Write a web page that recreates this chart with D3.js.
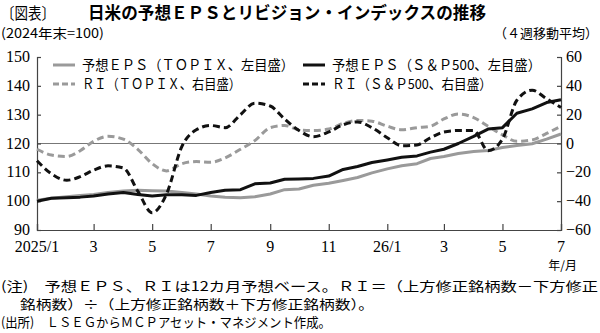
<!DOCTYPE html>
<html>
<head>
<meta charset="utf-8">
<script src="https://cdn.jsdelivr.net/npm/d3@7"></script>
<style>
body{margin:0;background:#fff;}
svg{display:block;}
</style>
</head>
<body>
<div id="chart"></div>
<script>
// data (semi-monthly points)
var dates=["2025-01-01","2025-01-16","2025-02-01","2025-02-15","2025-03-01","2025-03-16","2025-04-01","2025-04-16","2025-05-01","2025-05-16","2025-06-01","2025-06-16","2025-07-01","2025-07-16","2025-08-01","2025-08-16","2025-09-01","2025-09-16","2025-10-01","2025-10-16","2025-11-01","2025-11-16","2025-12-01","2025-12-16","2026-01-01","2026-01-16","2026-02-01","2026-02-15","2026-03-01","2026-03-16","2026-04-01","2026-04-16","2026-05-01","2026-05-16","2026-06-01","2026-06-16","2026-07-01"]
var epsTopix=[100.3,101,101.5,102,102.3,103,103.5,103.8,103.6,103.5,103,102.5,101.8,101.4,101.2,101.5,102.5,104,104.2,105.5,106.2,107.2,108.2,109.8,111.2,112.3,113,114.8,115.5,116.5,117.2,117.6,118.6,119.3,119.9,121.5,123.3]
var epsSP=[100,101,101.2,101.4,101.8,102.5,103,102.3,101.8,102.2,102.2,102,103,103.8,104,106,106.3,107.6,107.7,107.9,108.7,111,112,113.4,114.3,115.2,115.7,117,118,120,122.5,125,125.5,130.5,132,134.2,135.2]
var riTopix=[-4,-8,-9,-5,1.5,5,3,-4,-14,-19,-14,-12.5,-13,-10,-4,2,11,12.5,9.5,9,10,14,16,15.5,12,9.5,11,12,17,20.5,18,12,6,1.5,2.5,7,12]
var riSP=[-12,-21,-25.5,-23,-18.5,-15.5,-17,-33,-48,-35,-2,9.5,12.5,11,20,28,26,17,9,4.7,8,13,15,11,4,-1.5,-1,4,8,9,9,-5,3,30,37,31,25]

var leftTicks=[90,100,110,120,130,140,150]
var rightTicks=[-60,-40,-20,0,20,40,60]
var xTickDates=["2025-01-01","2025-03-01","2025-05-01","2025-07-01","2025-09-01","2025-11-01","2026-01-01","2026-03-01","2026-05-01","2026-07-01"]
var xTickLabels=["2025/1","3","5","7","9","11","26/1","3","5","7"]

var W=600,H=333
var mLeft=37,mRight=561,mTop=57,mBottom=230
var serif='"Liberation Serif","DejaVu Serif",serif'
var jp='"Noto Sans CJK JP","Noto Sans",sans-serif'

var svg=d3.select('#chart').append('svg')
    .attr('width',W)
    .attr('height',H)

var parse=d3.timeParse('%Y-%m-%d')
var xs=d3.scaleTime()
    .domain([parse('2025-01-01'),parse('2026-07-01')])
    .range([mLeft,mRight])
var yl=d3.scaleLinear().domain([90,150]).range([mBottom,mTop])
var yr=d3.scaleLinear().domain([-60,60]).range([mBottom,mTop])

// titles
svg.append('text').attr('x',1).attr('y',19)
    .attr('font-family',jp).attr('font-size',16)
    .attr('textLength',54).attr('lengthAdjust','spacingAndGlyphs')
    .text('〔図表〕')
svg.append('text').attr('x',88).attr('y',19)
    .attr('font-family',jp).attr('font-size',17).attr('font-weight','bold')
    .attr('textLength',398).attr('lengthAdjust','spacingAndGlyphs')
    .text('日米の予想ＥＰＳとリビジョン・インデックスの推移')
svg.append('text').attr('x',1).attr('y',38)
    .attr('font-family',jp).attr('font-size',13)
    .attr('textLength',103).attr('lengthAdjust','spacingAndGlyphs')
    .text('(2024年末=100)')
svg.append('text').attr('x',598).attr('y',38).attr('text-anchor','end')
    .attr('font-family',jp).attr('font-size',13)
    .text('（４週移動平均）')

// 120 / 0 line
svg.append('line')
    .attr('x1',mLeft).attr('x2',mRight)
    .attr('y1',yl(120)).attr('y2',yl(120))
    .attr('stroke','#777').attr('stroke-width',1)

// axes
var yAxisL=d3.axisRight(yl).tickValues(leftTicks).tickSize(4).tickFormat('')
var yAxisR=d3.axisLeft(yr).tickValues(rightTicks).tickSize(4).tickFormat('')
var xAxis=d3.axisTop(xs).tickValues(xTickDates.map(parse)).tickSize(6).tickFormat('')

svg.append('g').attr('transform',`translate(${mLeft},0)`).call(yAxisL)
svg.append('g').attr('transform',`translate(${mRight},0)`).call(yAxisR)
svg.append('g').attr('transform',`translate(0,${mBottom})`).call(xAxis)
svg.selectAll('.domain').attr('stroke','#444').attr('stroke-width',1.2)
svg.selectAll('.tick line').attr('stroke','#444').attr('stroke-width',1.2)

// tick labels
svg.selectAll('.lt').data(leftTicks).enter().append('text')
    .attr('x',mLeft-7).attr('y',d=>yl(d)+5)
    .attr('text-anchor','end')
    .attr('font-family',serif).attr('font-size',16)
    .text(d=>d)
svg.selectAll('.rt').data(rightTicks).enter().append('text')
    .attr('x',mRight+5).attr('y',d=>yr(d)+5)
    .attr('font-family',serif).attr('font-size',16)
    .text(d=>d<0?'−'+Math.abs(d):d)
svg.selectAll('.xt').data(xTickDates).enter().append('text')
    .attr('x',d=>xs(parse(d))).attr('y',mBottom+22)
    .attr('text-anchor','middle')
    .attr('font-family',serif).attr('font-size',16)
    .text((d,i)=>xTickLabels[i])
svg.append('text').attr('x',577).attr('y',270).attr('text-anchor','end')
    .attr('font-family',jp).attr('font-size',12)
    .text('年/月')

// lines
var pts=dates.map(parse)
var lineL=d3.line().x((d,i)=>xs(pts[i])).y(d=>yl(d))
var lineR=d3.line().x((d,i)=>xs(pts[i])).y(d=>yr(d)).curve(d3.curveMonotoneX)

var series=[
    {vals:riTopix,gen:lineR,color:'#9a9a9a',dash:'7,4'},
    {vals:epsTopix,gen:lineL,color:'#9a9a9a',dash:null},
    {vals:riSP,gen:lineR,color:'#111',dash:'7,4'},
    {vals:epsSP,gen:lineL,color:'#111',dash:null}
]
series.forEach(function(s){
    svg.append('path')
        .attr('d',s.gen(s.vals))
        .attr('fill','none')
        .attr('stroke',s.color)
        .attr('stroke-width',3)
        .attr('stroke-dasharray',s.dash)
        .attr('stroke-linejoin','round')
})

// legend
var legend=[
    {x:53,y:65,color:'#9a9a9a',dash:null,text:'予想ＥＰＳ（ＴＯＰＩＸ、左目盛）',w:212},
    {x:53,y:84,color:'#9a9a9a',dash:'6,3',text:'ＲＩ（ＴＯＰＩＸ、右目盛）',w:159},
    {x:303,y:65,color:'#111',dash:null,text:'予想ＥＰＳ（Ｓ＆Ｐ500、左目盛）',w:209},
    {x:303,y:84,color:'#111',dash:'6,3',text:'ＲＩ（Ｓ＆Ｐ500、右目盛）',w:160}
]
legend.forEach(function(l){
    svg.append('line')
        .attr('x1',l.x).attr('x2',l.x+22)
        .attr('y1',l.y).attr('y2',l.y)
        .attr('stroke',l.color).attr('stroke-width',3)
        .attr('stroke-dasharray',l.dash)
    svg.append('text')
        .attr('x',l.x+29).attr('y',l.y+5)
        .attr('font-family',jp).attr('font-size',14)
        .attr('textLength',l.w).attr('lengthAdjust','spacingAndGlyphs')
        .text(l.text)
})

// notes
var notes=[
    {x:1,y:291,w:597,t:'(注)　予想ＥＰＳ、ＲＩは12カ月予想ベース。ＲＩ＝（上方修正銘柄数－下方修正'},
    {x:20,y:309,w:354,t:'銘柄数）÷（上方修正銘柄数＋下方修正銘柄数）。'},
    {x:1,y:327,w:330,t:'(出所)　ＬＳＥＧからＭＣＰアセット・マネジメント作成。'}
]
notes.forEach(function(n){
    svg.append('text')
        .attr('x',n.x).attr('y',n.y)
        .attr('font-family',jp).attr('font-size',13)
        .attr('textLength',n.w).attr('lengthAdjust','spacingAndGlyphs')
        .text(n.t)
})
</script>
</body>
</html>
